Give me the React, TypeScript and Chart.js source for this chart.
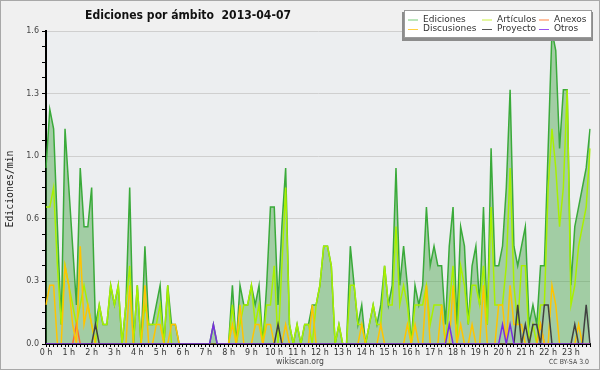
import React, { useEffect, useRef } from "react";
import { Chart, registerables } from "chart.js";

Chart.register(...registerables);

// 10-minute slots of 2013-04-07
const slots: string[] = Array.from({ length: 144 }, (_, i) => `${Math.floor(i / 6)}:${String((i % 6) * 10).padStart(2, "0")}`);

const ediciones = [
  0.9, 1.2, 1.1, 0.6, 0.1, 1.1, 0.8, 0.5, 0.2, 0.9, 0.6, 0.6,
  0.8, 0.1, 0.2, 0.1, 0.1, 0.3, 0.2, 0.3, 0, 0.2, 0.8, 0,
  0.3, 0, 0.5, 0.1, 0.1, 0.2, 0.3, 0, 0.3, 0.1, 0.1, 0,
  0, 0, 0, 0, 0, 0, 0, 0, 0.1, 0, 0, 0,
  0, 0.3, 0, 0.3, 0.2, 0.2, 0.3, 0.2, 0.3, 0, 0.3, 0.7,
  0.7, 0.2, 0.6, 0.9, 0.1, 0, 0.1, 0, 0.1, 0.1, 0.2, 0.2,
  0.3, 0.5, 0.5, 0.4, 0, 0.1, 0, 0, 0.5, 0.3, 0.1, 0.2,
  0, 0.1, 0.2, 0.1, 0.2, 0.4, 0.2, 0.3, 0.9, 0.3, 0.5, 0.3,
  0, 0.3, 0.2, 0.3, 0.7, 0.4, 0.5, 0.4, 0.4, 0.1, 0.5, 0.7,
  0.1, 0.6, 0.5, 0.1, 0.4, 0.5, 0.2, 0.7, 0.1, 1.0, 0.4, 0.4,
  0.5, 0.8, 1.3, 0.5, 0.4, 0.5, 0.6, 0.1, 0.2, 0.1, 0.4, 0.4,
  1.0, 1.6, 1.5, 1.0, 1.3, 1.3, 0.3, 0.6, 0.7, 0.8, 0.9, 1.1,
];

const articulos = [
  0.7, 0.7, 0.8, 0.4, 0.1, 0.4, 0.3, 0.2, 0.1, 0.2, 0.3, 0.2,
  0.1, 0, 0.2, 0.1, 0.1, 0.3, 0.2, 0.3, 0, 0.2, 0.4, 0,
  0.3, 0, 0.2, 0.1, 0.1, 0.1, 0.2, 0, 0.3, 0, 0, 0,
  0, 0, 0, 0, 0, 0, 0, 0, 0, 0, 0, 0,
  0, 0.2, 0, 0.1, 0.2, 0.2, 0.3, 0.1, 0.2, 0, 0.2, 0.2,
  0.4, 0, 0.4, 0.8, 0.1, 0, 0.1, 0, 0.1, 0.1, 0, 0.2,
  0.3, 0.5, 0.5, 0.4, 0, 0.1, 0, 0, 0.3, 0.3, 0.1, 0.1,
  0, 0.1, 0.2, 0.1, 0.1, 0.4, 0.2, 0.2, 0.6, 0.2, 0.3, 0.2,
  0, 0.2, 0.2, 0.2, 0.3, 0.1, 0.2, 0.2, 0.2, 0, 0.2, 0.4,
  0, 0.4, 0.3, 0.1, 0.3, 0.3, 0.2, 0.4, 0.1, 0.7, 0.2, 0.2,
  0.2, 0.4, 0.9, 0.3, 0.1, 0.4, 0.4, 0, 0.1, 0, 0.2, 0.2,
  0.8, 1.1, 0.9, 0.6, 0.8, 1.3, 0.2, 0.3, 0.5, 0.6, 0.7, 1.0,
];

const discusiones = [
  0.2, 0.3, 0.3, 0, 0, 0.4, 0.3, 0.1, 0, 0.5, 0.1, 0.2,
  0.1, 0, 0, 0, 0, 0, 0, 0, 0, 0, 0.3, 0,
  0, 0, 0.3, 0, 0, 0.1, 0.1, 0, 0, 0.1, 0.1, 0,
  0, 0, 0, 0, 0, 0, 0, 0, 0, 0, 0, 0,
  0, 0.1, 0, 0.2, 0, 0, 0, 0.1, 0.1, 0, 0.1, 0.1,
  0, 0, 0, 0.1, 0, 0, 0, 0, 0, 0, 0.2, 0,
  0, 0, 0, 0, 0, 0, 0, 0, 0, 0, 0, 0.1,
  0, 0, 0, 0, 0.1, 0, 0, 0, 0, 0, 0, 0.1,
  0, 0.1, 0, 0, 0.3, 0, 0, 0, 0.2, 0, 0, 0.3,
  0, 0.1, 0, 0, 0.1, 0, 0, 0.3, 0, 0, 0, 0.2,
  0.2, 0, 0.3, 0.1, 0.1, 0.1, 0, 0, 0, 0, 0.1, 0,
  0, 0.3, 0.2, 0, 0, 0, 0, 0, 0.1, 0, 0, 0,
];

const anexos = [
  0, 0, 0, 0, 0, 0, 0, 0, 0.1, 0, 0, 0,
  0, 0, 0, 0, 0, 0, 0, 0, 0, 0, 0, 0,
  0, 0, 0, 0, 0, 0, 0, 0, 0, 0, 0, 0,
  0, 0, 0, 0, 0, 0, 0, 0, 0, 0, 0, 0,
  0, 0, 0, 0, 0, 0, 0, 0, 0, 0, 0, 0,
  0, 0, 0, 0, 0, 0, 0, 0, 0, 0, 0, 0,
  0, 0, 0, 0, 0, 0, 0, 0, 0, 0, 0, 0,
  0, 0, 0, 0, 0, 0, 0, 0, 0, 0, 0, 0,
  0, 0, 0, 0, 0, 0, 0, 0, 0, 0, 0, 0,
  0, 0, 0, 0, 0, 0, 0, 0, 0, 0, 0, 0,
  0, 0, 0, 0, 0, 0, 0, 0, 0, 0, 0.1, 0,
  0, 0, 0, 0, 0, 0, 0, 0, 0, 0, 0, 0,
];

const proyecto = [
  0, 0, 0, 0, 0, 0, 0, 0, 0, 0, 0, 0,
  0, 0.1, 0, 0, 0, 0, 0, 0, 0, 0, 0, 0,
  0, 0, 0, 0, 0, 0, 0, 0, 0, 0, 0, 0,
  0, 0, 0, 0, 0, 0, 0, 0, 0, 0, 0, 0,
  0, 0, 0, 0, 0, 0, 0, 0, 0, 0, 0, 0,
  0, 0.1, 0, 0, 0, 0, 0, 0, 0, 0, 0, 0,
  0, 0, 0, 0, 0, 0, 0, 0, 0, 0, 0, 0,
  0, 0, 0, 0, 0, 0, 0, 0, 0, 0, 0, 0,
  0, 0, 0, 0, 0, 0, 0, 0, 0, 0, 0, 0,
  0, 0, 0, 0, 0, 0, 0, 0, 0, 0, 0, 0,
  0, 0, 0, 0, 0.2, 0, 0.1, 0, 0.1, 0.1, 0, 0.2,
  0.2, 0, 0, 0, 0, 0, 0, 0.1, 0, 0, 0.2, 0,
];

const otros = [
  0, 0, 0, 0, 0, 0, 0, 0, 0, 0, 0, 0,
  0, 0, 0, 0, 0, 0, 0, 0, 0, 0, 0, 0,
  0, 0, 0, 0, 0, 0, 0, 0, 0, 0, 0, 0,
  0, 0, 0, 0, 0, 0, 0, 0, 0.1, 0, 0, 0,
  0, 0, 0, 0, 0, 0, 0, 0, 0, 0, 0, 0,
  0, 0, 0, 0, 0, 0, 0, 0, 0, 0, 0, 0,
  0, 0, 0, 0, 0, 0, 0, 0, 0, 0, 0, 0,
  0, 0, 0, 0, 0, 0, 0, 0, 0, 0, 0, 0,
  0, 0, 0, 0, 0, 0, 0, 0, 0, 0, 0.1, 0,
  0, 0, 0, 0, 0, 0, 0, 0, 0, 0, 0, 0,
  0.1, 0, 0.1, 0, 0, 0, 0, 0, 0, 0, 0, 0,
  0, 0, 0, 0, 0, 0, 0, 0, 0, 0, 0, 0,
];

const yMax = 1.6;
const yTickStep = 0.08; // minor ticks; every 4th is labelled
const hourLabel = (h: number) => `${h} h`;

const FONT = '"DejaVu Sans", sans-serif';

function fitText(ctx: CanvasRenderingContext2D, text: string, x: number, y: number, width: number) {
  const w = ctx.measureText(text).width;
  ctx.save();
  ctx.translate(x, y);
  ctx.scale(width / w, 1);
  ctx.fillText(text, 0, 0);
  ctx.restore();
}

const decorPlugin = {
  id: "decor",
  beforeDraw(chart: any) {
    const { ctx, chartArea, width, height } = chart;
    ctx.save();
    ctx.fillStyle = "#f0f0f0";
    ctx.fillRect(0, 0, width, height);
    ctx.fillStyle = "#eceef0";
    ctx.fillRect(chartArea.left, chartArea.top, chartArea.right - chartArea.left, chartArea.bottom - chartArea.top);
    ctx.restore();
  },
  afterDraw(chart: any) {
    const { ctx, width, height } = chart;
    ctx.save();
    // frame
    ctx.strokeStyle = "#a8a8a8";
    ctx.lineWidth = 1;
    ctx.strokeRect(0.5, 0.5, width - 1, height - 1);

    // title
    ctx.fillStyle = "#111";
    ctx.textBaseline = "alphabetic";
    ctx.textAlign = "left";
    ctx.font = `bold 12px ${FONT}`;
    fitText(ctx, "Ediciones por ámbito  2013-04-07", 85, 18.5, 206);

    // y title
    ctx.save();
    ctx.translate(13, 189);
    ctx.rotate(-Math.PI / 2);
    ctx.font = `11px "DejaVu Sans Mono", ${FONT}`;
    ctx.fillStyle = "#222";
    const yt = "Ediciones/min";
    const ytw = ctx.measureText(yt).width;
    ctx.scale(77 / ytw, 1);
    ctx.textAlign = "center";
    ctx.fillText(yt, 0, 0);
    ctx.restore();

    // footers
    ctx.font = `9px ${FONT}`;
    ctx.fillStyle = "#444";
    ctx.textBaseline = "middle";
    fitText(ctx, "wikiscan.org", 276, 362, 48);
    ctx.font = `7px ${FONT}`;
    fitText(ctx, "CC BY-SA 3.0", 549, 362.5, 40);

    // legend
    ctx.fillStyle = "#8c8c8c";
    ctx.fillRect(402, 12, 191, 29);
    ctx.fillStyle = "#ffffff";
    ctx.fillRect(404, 10, 188, 28);
    ctx.strokeStyle = "#9a9a9a";
    ctx.strokeRect(404.5, 10.5, 187, 27);
    const cols = [408, 482, 539];
    const rows = [19.5, 29];
    const order = [0, 2, 1, 3, 4, 5]; // dataset indices, column-major
    const ds = chart.data.datasets;
    ctx.font = `9px ${FONT}`;
    ctx.textBaseline = "middle";
    order.forEach((di, k) => {
      const d = ds[di];
      const col = Math.floor(k / 2);
      const row = k % 2;
      const x = cols[col];
      const y = rows[row];
      ctx.strokeStyle = d.legendColor || d.borderColor;
      ctx.lineWidth = 1;
      ctx.beginPath();
      ctx.moveTo(x, y + 0.5);
      ctx.lineTo(x + 10, y + 0.5);
      ctx.stroke();
      ctx.fillStyle = "#333";
      ctx.fillText(d.label, x + 15, y);
    });
    ctx.restore();
  },
};

export default function App() {
  const ref = useRef<HTMLCanvasElement>(null);
  useEffect(() => {
    document.body.style.margin = "0";
    const line = (label: string, data: number[], color: string, order: number, extra: any = {}) => ({
      label,
      data,
      borderColor: color,
      borderWidth: 1.5,
      pointRadius: 0,
      tension: 0,
      fill: false,
      order,
      ...extra,
    });
    const chart = new Chart(ref.current as HTMLCanvasElement, {
      type: "line",
      data: {
        labels: slots,
        datasets: [
          line("Ediciones", ediciones, "#3aaa3a", 10, {
            fill: "origin",
            backgroundColor: "rgba(60,160,60,0.42)",
            legendColor: "#77cc77",
          }),
          line("Artículos", articulos, "#a8f000", 6, { legendColor: "#c8f040" }),
          line("Discusiones", discusiones, "#ffc400", 4, { legendColor: "#ffd040" }),
          line("Proyecto", proyecto, "#404040", 3, { legendColor: "#555555" }),
          line("Anexos", anexos, "#ff6a30", 5, { legendColor: "#ff8040" }),
          line("Otros", otros, "#7a2ee0", 2, { legendColor: "#9a50f0" }),
        ],
      },
      options: {
        responsive: false,
        animation: false,
        devicePixelRatio: 1,
        layout: { padding: { top: 31, right: 10, left: 0, bottom: 0 } },
        plugins: {
          legend: { display: false },
          title: { display: false },
          tooltip: { enabled: false },
        },
        scales: {
          x: {
            type: "category",
            offset: false,
            grid: { drawOnChartArea: false, tickColor: "#000", tickLength: 3, tickWidth: 1, offset: false },
            border: { color: "#000", width: 2 },
            ticks: {
              autoSkip: false,
              maxRotation: 0,
              minRotation: 0,
              padding: 1,
              color: "#333",
              font: { size: 8, family: FONT },
              callback: (_v: any, i: number) => (i % 6 === 0 ? hourLabel(i / 6) : ""),
            },
            afterFit: (s: any) => {
              s.height = 26;
            },
          },
          y: {
            type: "linear",
            min: 0,
            max: yMax,
            afterBuildTicks: (s: any) => {
              const n = Math.round(yMax / yTickStep);
              s.ticks = Array.from({ length: n + 1 }, (_, k) => ({ value: k * yTickStep }));
            },
            grid: {
              color: (c: any) => (c.index % 4 === 0 ? "#cfcfcf" : "rgba(0,0,0,0)"),
              tickColor: "#000",
              tickLength: 4,
              lineWidth: 1,
            },
            border: { color: "#000", width: 2 },
            ticks: {
              padding: 3,
              color: "#444",
              font: { size: 8, family: FONT },
              callback: (v: any, i: number) => (i % 4 === 0 ? Number(v).toFixed(1) : ""),
            },
            afterFit: (s: any) => {
              s.width = 46;
            },
          },
        },
      },
      plugins: [decorPlugin],
    } as any);
    return () => chart.destroy();
  }, []);
  return (
    <div style={{ width: 600, height: 370 }}>
      <canvas ref={ref} width={600} height={370} style={{ display: "block" }} />
    </div>
  );
}
